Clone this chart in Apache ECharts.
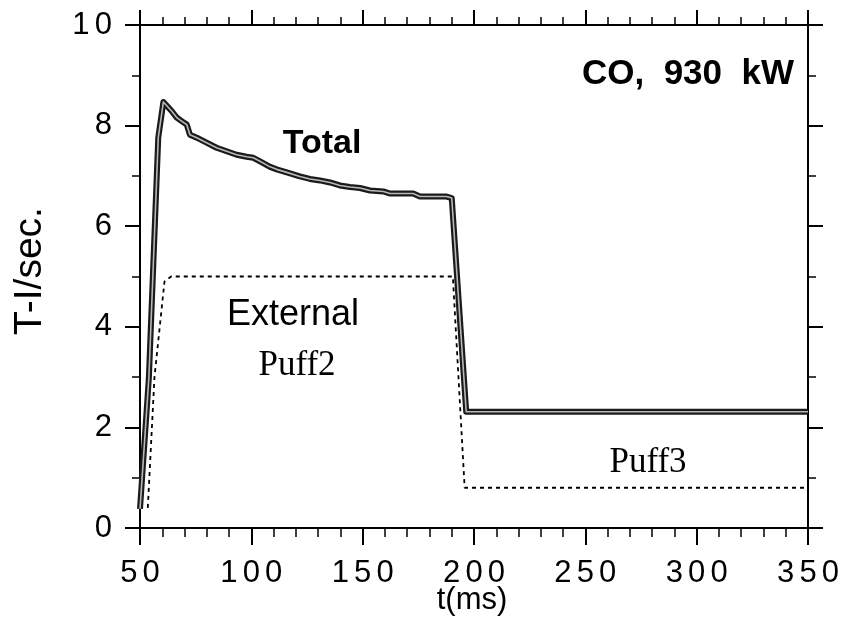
<!DOCTYPE html>
<html>
<head>
<meta charset="utf-8">
<script src="https://cdn.jsdelivr.net/npm/echarts@6/dist/echarts.min.js"></script>
<style>
  html, body { margin: 0; padding: 0; background: #fff; }
  #chart { width: 848px; height: 627px; }
</style>
</head>
<body>
<div id="chart"></div>
<script>
// time (ms) / value pairs
const totalTime = [50, 54, 58.2, 60.5, 64.2, 66.5, 68.7, 71, 72.4, 75.5, 79.9, 84.4, 88.9, 93.4, 97.9, 100.9,
    103.9, 108.4, 111.4, 115.9, 121.8, 126.3, 130.8, 135.3, 139.8, 144.3, 148.8, 153.3, 159.3, 162.3,
    172.7, 175.7, 187.7, 190, 196.5, 350];
const totalValue = [0.38, 3.0, 7.76, 8.47, 8.29, 8.16, 8.09, 8.02, 7.82, 7.76, 7.66, 7.56, 7.49, 7.42, 7.38, 7.36,
    7.29, 7.18, 7.13, 7.07, 6.99, 6.94, 6.91, 6.87, 6.81, 6.78, 6.76, 6.71, 6.69, 6.65,
    6.65, 6.59, 6.59, 6.56, 2.31, 2.31];

const externalTime = [53.5, 56.5, 61, 64, 190.5, 195.8, 350];
const externalValue = [0.4, 3.0, 4.9, 5.0, 5.0, 0.8, 0.8];

const xTicks = [50, 100, 150, 200, 250, 300, 350];
const yTicks = [0, 2, 4, 6, 8, 10];

// the scanned figure has widely spaced digits
const sp = s => String(s).split('').join('\u2006');
const pairs = (xs, ys) => xs.map((x, i) => [x, ys[i]]);

const chart = echarts.init(document.getElementById('chart'));

const black = '#000';
const axisLine = { show: true, onZero: false, lineStyle: { color: black, width: 2 } };

const option = {
    animation: false,
    backgroundColor: '#fff',
    grid: { left: 140, right: 40, top: 25, bottom: 99 },
    xAxis: [
        {
            type: 'value', position: 'bottom',
            min: xTicks[0], max: xTicks[xTicks.length - 1], interval: 50,
            axisLine: axisLine,
            axisTick: { show: true, inside: false, length: 17, lineStyle: { color: black, width: 2 } },
            minorTick: { show: true, splitNumber: 5, length: 9, lineStyle: { color: black, width: 1.5 } },
            axisLabel: {
                color: black, fontSize: 31, margin: 30, fontFamily: 'Liberation Sans',
                formatter: v => sp(v)
            },
            splitLine: { show: false }, minorSplitLine: { show: false }
        },
        {
            type: 'value', position: 'top',
            min: xTicks[0], max: xTicks[xTicks.length - 1], interval: 50,
            axisLine: axisLine,
            axisTick: { show: true, inside: false, length: 15, lineStyle: { color: black, width: 2 } },
            minorTick: { show: true, splitNumber: 5, length: 8, lineStyle: { color: black, width: 1.5 } },
            axisLabel: { show: false },
            splitLine: { show: false }
        }
    ],
    yAxis: [
        {
            type: 'value', position: 'left',
            min: yTicks[0], max: yTicks[yTicks.length - 1], interval: 2,
            axisLine: axisLine,
            axisTick: { show: true, inside: false, length: 15, lineStyle: { color: black, width: 2 } },
            minorTick: { show: true, splitNumber: 2, length: 8, lineStyle: { color: black, width: 1.5 } },
            axisLabel: {
                color: black, fontSize: 31, margin: 28, fontFamily: 'Liberation Sans',
                formatter: v => sp(v)
            },
            splitLine: { show: false }
        },
        {
            type: 'value', position: 'right',
            min: yTicks[0], max: yTicks[yTicks.length - 1], interval: 2,
            axisLine: axisLine,
            axisTick: { show: true, inside: false, length: 15, lineStyle: { color: black, width: 2 } },
            minorTick: { show: true, splitNumber: 2, length: 8, lineStyle: { color: black, width: 1.5 } },
            axisLabel: { show: false },
            splitLine: { show: false }
        }
    ],
    series: [
        {
            name: 'Total', type: 'line', showSymbol: false, symbol: 'none',
            data: pairs(totalTime, totalValue),
            lineStyle: { color: '#1a1a1a', width: 6, join: 'round' }
        },
        {
            name: 'Total core', type: 'line', showSymbol: false, symbol: 'none',
            data: pairs(totalTime, totalValue),
            lineStyle: { color: '#b8b8b8', width: 1.6, join: 'round' }
        },
        {
            name: 'External', type: 'line', showSymbol: false, symbol: 'none',
            data: pairs(externalTime, externalValue),
            lineStyle: { color: black, width: 1.8, type: [4, 4] }
        }
    ],
    graphic: [
        { type: 'text', style: { x: 322, y: 144, text: 'Total', fill: black,
            font: 'bold 34px "Liberation Sans"', textAlign: 'center', textVerticalAlign: 'middle' } },
        { type: 'text', style: { x: 794, y: 74, text: 'CO,  930  kW', fill: black,
            font: 'bold 35px "Liberation Sans"', textAlign: 'right', textVerticalAlign: 'middle' } },
        { type: 'text', style: { x: 293, y: 315, text: 'External', fill: black,
            font: '36px "Liberation Sans"', textAlign: 'center', textVerticalAlign: 'middle' } },
        { type: 'text', style: { x: 297, y: 366, text: 'Puff2', fill: black,
            font: '35px "Liberation Serif"', textAlign: 'center', textVerticalAlign: 'middle' } },
        { type: 'text', style: { x: 648, y: 463, text: 'Puff3', fill: black,
            font: '35px "Liberation Serif"', textAlign: 'center', textVerticalAlign: 'middle' } },
        { type: 'text', style: { x: 472, y: 600, text: 't(ms)', fill: black,
            font: '31px "Liberation Sans"', textAlign: 'center', textVerticalAlign: 'middle' } },
        { type: 'text', x: 30, y: 271, rotation: Math.PI / 2,
            style: { x: 0, y: 0, text: 'T-I/sec.', fill: black,
            font: '39px "Liberation Sans"', textAlign: 'center', textVerticalAlign: 'middle' } }
    ]
};

chart.setOption(option);
</script>
</body>
</html>
